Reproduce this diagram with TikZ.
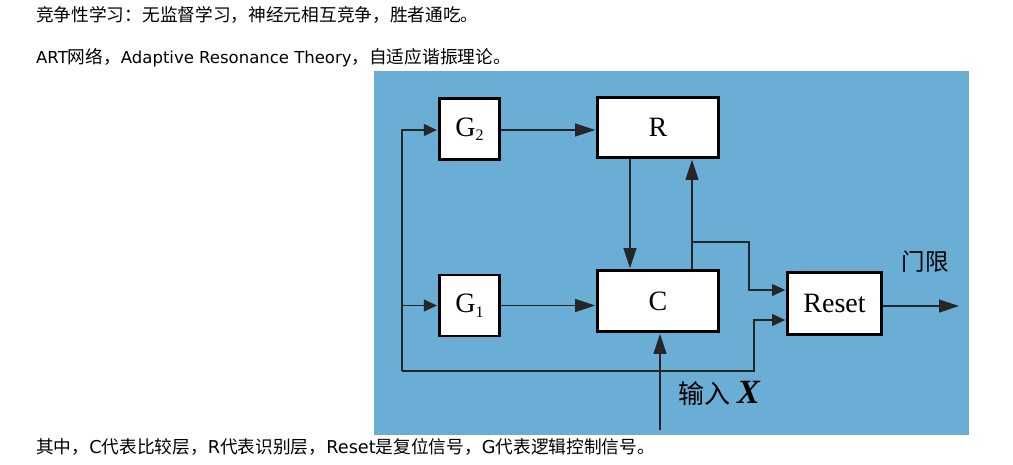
\documentclass[tikz,border=0pt]{standalone}
\usepackage{fontspec}
\setmainfont{Liberation Serif}
\newfontfamily\cjk{Noto Sans CJK SC}
\newfontfamily\latn{DejaVu Sans}
\usetikzlibrary{arrows.meta}
\definecolor{artblue}{RGB}{106,173,213}
\def\Txt{\fontsize{17.7}{20}\selectfont}
\newcommand\Gsub[1]{G\raisebox{-4.5pt}{\fontsize{16}{16}\selectfont #1}}

\tikzset{
  blk/.style={draw=black, fill=white, line width=2.8pt, inner sep=0pt,
    font=\fontsize{28}{28}\selectfont},
  wire/.style={line width=1.2pt, draw=black!85},
  bigarr/.style={wire, -{Triangle[length=20pt,width=13pt]}, shorten >=1pt},
  smallarr/.style={wire, -{Triangle[length=13pt,width=12pt]}, shorten >=1pt},
  note/.style={anchor=west, inner sep=0pt, font=\Txt\cjk},
}

\begin{document}
\begin{tikzpicture}[x=1pt, y=-1pt]
  \useasboundingbox (0,0) rectangle (1013,464);

  \node[note] (intro) at (36,15) {竞争性学习：无监督学习，神经元相互竞争，胜者通吃。};
  \node[note] (artline) at (36,58)
    {{\latn\fontsize{16.5}{18}\selectfont ART}网络，{\latn\fontsize{16.5}{18}\selectfont Adaptive Resonance Theory}，自适应谐振理论。};

  \fill[artblue] (374,71) rectangle (969,435);

  \node[blk, minimum width=60.5pt, minimum height=61pt] (G2) at (469.5,129) {\Gsub{2}};
  \node[blk, minimum width=121pt, minimum height=60pt] (R) at (658,127.5) {R};
  \node[blk, minimum width=60.5pt, minimum height=61pt] (G1) at (469.5,305.5) {\Gsub{1}};
  \node[blk, minimum width=121pt, minimum height=61pt] (C) at (658,301) {C};
  \node[blk, minimum width=94pt, minimum height=62pt] (Reset) at (834.5,303.5) {Reset};

  \coordinate (lt) at (402,130);
  \coordinate (lb) at (402,371);
  \coordinate (rb) at (754,320);
  \coordinate (br) at (692,242);
  \coordinate (bk) at (749,290);
  \coordinate (inX) at (660,430);
  \coordinate (thr) at (960,306);

  % gain control paths
  \draw[smallarr] (lb) -- (lt) -- (lt -| G2.west);
  \draw[smallarr] (lb |- G1.west) -- (G1.west);
  \draw[smallarr] (lb) -| (rb) -- (rb -| Reset.west);
  \draw[bigarr] (G2.east |- lt) -- (R.west |- lt);
  \draw[bigarr] (G1.east) -- (G1.east -| C.west);

  % R <-> C and reset
  \draw[bigarr] ([xshift=-28pt]R.south) -- ([xshift=-28pt]C.north);
  \draw[bigarr] ([xshift=34pt]C.north) -- ([xshift=34pt]R.south);
  \draw[smallarr] (br) -| (bk) -- (bk -| Reset.west);
  \draw[bigarr] (inX) -- (inX |- C.south);
  \draw[bigarr] (Reset.east |- thr) -- (thr);

  \node[font=\fontsize{23.5}{24}\selectfont\cjk, inner sep=0pt] (thrlbl) at (925,262) {门限};
  \node[anchor=west, inner sep=0pt] (inlbl) at (678,393)
    {{\cjk\fontsize{26}{26}\selectfont 输入}\hspace{7pt}{\fontsize{34}{34}\selectfont\bfseries\itshape X}};

  \node[note] (caption) at (36,447)
    {其中，{\latn C}代表比较层，{\latn R}代表识别层，{\latn Reset}是复位信号，{\latn G}代表逻辑控制信号。};
\end{tikzpicture}
\end{document}
